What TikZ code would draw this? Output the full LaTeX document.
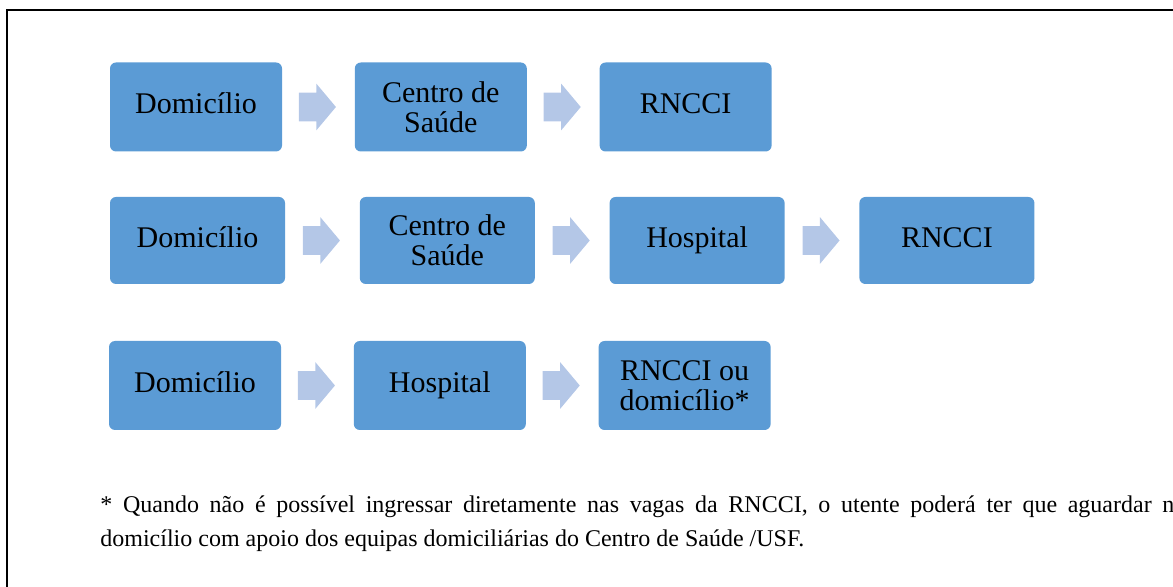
\documentclass[tikz,border=0pt]{standalone}
\usepackage{fontspec}
\setmainfont{Liberation Serif}
\usetikzlibrary{positioning,shapes.arrows}
\definecolor{boxblue}{HTML}{5B9BD5}
\definecolor{arrowblue}{HTML}{B4C7E7}

\begin{document}
\begin{tikzpicture}[x=0.5pt,y=-0.5pt,node distance=36pt,
  box/.style={rectangle,rounded corners=3pt,fill=boxblue,minimum width=86pt,
              minimum height=44.5pt,inner sep=1pt,align=center,
              font=\rmfamily\fontsize{15}{15}\selectfont},
  oneline/.style={text height=10.5pt,text depth=3.5pt},
  blockarrow/.style={single arrow,fill=arrowblue,minimum height=18.5pt,
              inner xsep=0pt,inner ysep=7pt,single arrow head extend=4.5pt,
              single arrow tip angle=100,xshift=-3.5pt},
  note/.style={anchor=base west,inner sep=0pt,font=\rmfamily\fontsize{12}{16.5}\selectfont}]

 \useasboundingbox (0,0) rectangle (1173,587);
 \clip (0,0) rectangle (1173,587);
 \draw[line width=1pt] (6.5,10.5) rectangle (1250,650);

  \node[box,oneline] (dom1) at (196,107)  {Domicílio};
  \node[box] (cs1)  [right=of dom1] {Centro de\\Saúde};
  \node[box,oneline] (rn1)  [right=of cs1]  {RNCCI};

 \begin{scope}[node distance=37pt,box/.append style={minimum width=87.5pt,minimum height=43.5pt}]
  \node[box,oneline] (dom2) at (197.5,240.5) {Domicílio};
  \node[box] (cs2)  [right=of dom2] {Centro de\\Saúde};
  \node[box,oneline] (hos2) [right=of cs2]  {Hospital};
  \node[box,oneline] (rn2)  [right=of hos2] {RNCCI};
 \end{scope}

  \node[box,oneline] (dom3) at (195,385.5) {Domicílio};
  \node[box,oneline] (hos3) [right=of dom3] {Hospital};
  \node[box] (rn3)  [right=of hos3] {RNCCI ou\\domicílio*};

  \path (dom1) -- node[blockarrow] {} (cs1)
        (cs1)  -- node[blockarrow] {} (rn1)
        (dom2) -- node[blockarrow] {} (cs2)
        (cs2)  -- node[blockarrow] {} (hos2)
        (hos2) -- node[blockarrow] {} (rn2)
        (dom3) -- node[blockarrow] {} (hos3)
        (hos3) -- node[blockarrow] {} (rn3);

  \node[note] (note1) at (100,513) {\makebox[543pt][s]{* Quando não é possível ingressar diretamente nas vagas da RNCCI, o utente poderá ter que aguardar no}};
  \node[note] (note2) at (100,546) {domicílio com apoio dos equipas domiciliárias do Centro de Saúde /USF.};

\end{tikzpicture}
\end{document}
